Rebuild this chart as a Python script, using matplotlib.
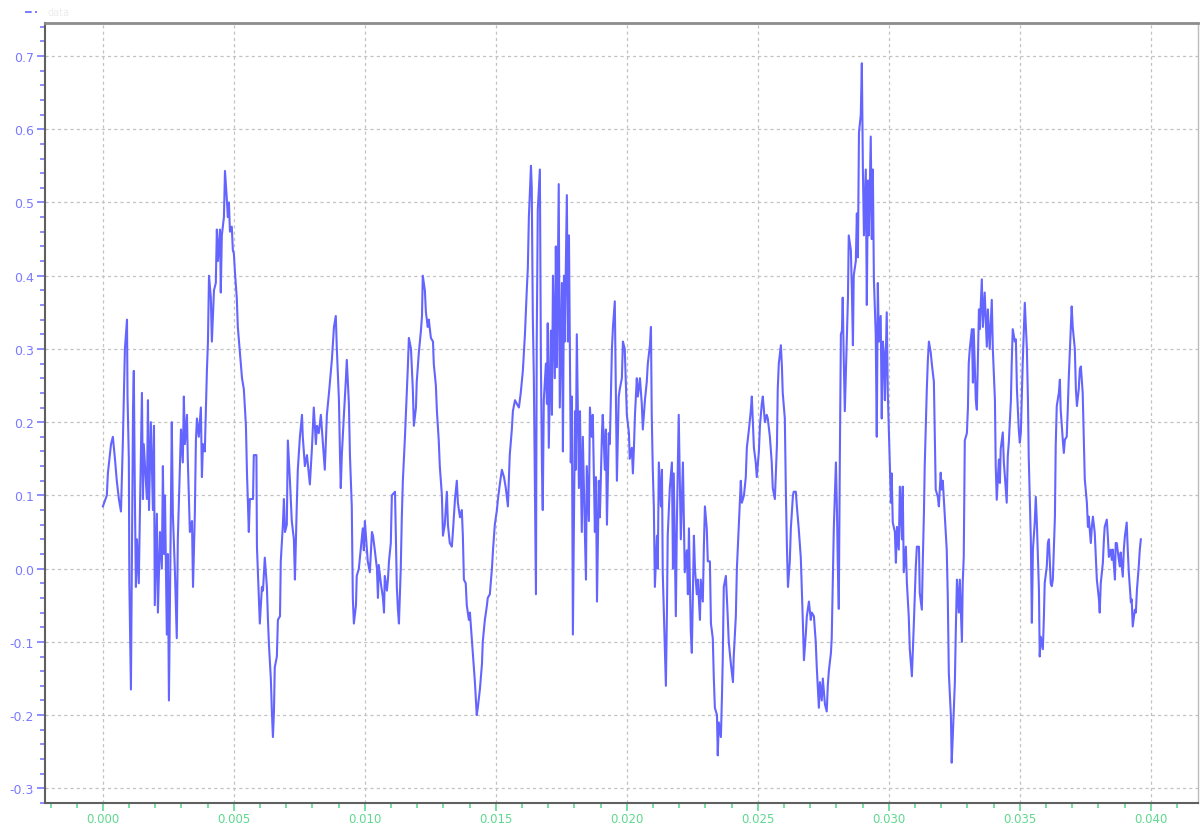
import numpy as np
import matplotlib
matplotlib.use('Agg')
import matplotlib.pyplot as plt
from matplotlib.ticker import MultipleLocator, FormatStrFormatter
from matplotlib.lines import Line2D

# 时间 (ms) 与幅值
t_ms = [
    0.00, 0.15, 0.19, 0.31, 0.38, 0.46, 0.53, 0.61, 0.69, 0.73, 0.76, 0.84, 0.92, 0.94, 0.99, 1.01,
    1.07, 1.11, 1.15, 1.18, 1.22, 1.26, 1.30, 1.37, 1.41, 1.49, 1.53, 1.56, 1.68, 1.72, 1.76, 1.83,
    1.91, 1.95, 1.98, 2.06, 2.10, 2.18, 2.25, 2.29, 2.33, 2.37, 2.44, 2.48, 2.52, 2.60, 2.63, 2.67,
    2.75, 2.82, 2.86, 2.90, 2.98, 3.05, 3.09, 3.13, 3.21, 3.24, 3.32, 3.40, 3.44, 3.51, 3.55, 3.59,
    3.66, 3.74, 3.78, 3.82, 3.89, 3.97, 4.01, 4.05, 4.12, 4.16, 4.24, 4.31, 4.35, 4.39, 4.47, 4.50,
    4.54, 4.62, 4.66, 4.73, 4.77, 4.81, 4.85, 4.92, 4.96, 5.00, 5.04, 5.11, 5.15, 5.23, 5.31, 5.38,
    5.46, 5.50, 5.57, 5.61, 5.73, 5.76, 5.86, 5.88, 5.99, 6.07, 6.11, 6.18, 6.26, 6.30, 6.34, 6.41,
    6.45, 6.49, 6.53, 6.56, 6.64, 6.68, 6.76, 6.79, 6.87, 6.91, 6.95, 7.02, 7.06, 7.14, 7.21, 7.29,
    7.33, 7.40, 7.44, 7.52, 7.60, 7.63, 7.71, 7.79, 7.90, 7.98, 8.05, 8.13, 8.17, 8.24, 8.32, 8.40,
    8.47, 8.55, 8.63, 8.74, 8.82, 8.89, 8.93, 9.01, 9.05, 9.08, 9.12, 9.20, 9.27, 9.31, 9.39, 9.43,
    9.50, 9.54, 9.58, 9.66, 9.69, 9.77, 9.85, 9.92, 9.96, 10.00, 10.08, 10.11, 10.19, 10.27, 10.31, 10.38,
    10.46, 10.50, 10.53, 10.61, 10.69, 10.73, 10.76, 10.84, 10.88, 10.92, 10.99, 11.03, 11.15, 11.18, 11.22, 11.26,
    11.30, 11.37, 11.41, 11.45, 11.53, 11.60, 11.64, 11.68, 11.76, 11.83, 11.87, 11.95, 11.98, 12.06, 12.14, 12.18,
    12.21, 12.29, 12.33, 12.40, 12.44, 12.52, 12.60, 12.63, 12.71, 12.75, 12.82, 12.86, 12.94, 12.98, 13.05, 13.13,
    13.17, 13.24, 13.32, 13.36, 13.44, 13.51, 13.55, 13.63, 13.70, 13.74, 13.78, 13.85, 13.89, 13.97, 14.01, 14.08,
    14.12, 14.20, 14.27, 14.31, 14.39, 14.47, 14.50, 14.58, 14.66, 14.69, 14.77, 14.85, 14.89, 14.96, 15.04, 15.08,
    15.15, 15.23, 15.31, 15.38, 15.46, 15.53, 15.61, 15.65, 15.73, 15.80, 15.88, 15.95, 16.03, 16.11, 16.18, 16.22,
    16.26, 16.34, 16.37, 16.41, 16.45, 16.49, 16.53, 16.56, 16.60, 16.68, 16.72, 16.76, 16.79, 16.83, 16.91, 16.95,
    16.98, 17.02, 17.10, 17.14, 17.18, 17.25, 17.29, 17.33, 17.40, 17.44, 17.52, 17.56, 17.60, 17.63, 17.71, 17.75,
    17.79, 17.86, 17.90, 17.94, 18.02, 18.05, 18.09, 18.17, 18.21, 18.28, 18.32, 18.40, 18.44, 18.47, 18.55, 18.59,
    18.66, 18.70, 18.78, 18.82, 18.86, 18.93, 18.97, 19.05, 19.08, 19.16, 19.20, 19.24, 19.31, 19.35, 19.43, 19.47,
    19.54, 19.58, 19.62, 19.69, 19.73, 19.81, 19.85, 19.92, 19.96, 20.00, 20.08, 20.11, 20.19, 20.23, 20.27, 20.31,
    20.38, 20.42, 20.50, 20.57, 20.61, 20.69, 20.76, 20.80, 20.88, 20.92, 20.95, 20.99, 21.03, 21.07, 21.15, 21.18,
    21.22, 21.30, 21.34, 21.37, 21.45, 21.49, 21.53, 21.56, 21.64, 21.72, 21.76, 21.79, 21.87, 21.91, 21.98, 22.06,
    22.14, 22.21, 22.29, 22.33, 22.37, 22.44, 22.48, 22.56, 22.60, 22.67, 22.71, 22.79, 22.82, 22.90, 22.94, 22.98,
    23.05, 23.09, 23.17, 23.21, 23.28, 23.32, 23.36, 23.44, 23.47, 23.51, 23.59, 23.63, 23.66, 23.70, 23.78, 23.85,
    23.89, 23.97, 24.05, 24.08, 24.16, 24.20, 24.27, 24.31, 24.35, 24.39, 24.47, 24.54, 24.58, 24.66, 24.73, 24.77,
    24.81, 24.85, 24.92, 24.96, 25.04, 25.08, 25.15, 25.19, 25.27, 25.34, 25.38, 25.46, 25.53, 25.57, 25.65, 25.73,
    25.76, 25.80, 25.88, 25.92, 25.95, 26.03, 26.07, 26.11, 26.15, 26.22, 26.26, 26.34, 26.37, 26.45, 26.49, 26.56,
    26.64, 26.68, 26.72, 26.76, 26.83, 26.87, 26.95, 27.02, 27.06, 27.14, 27.21, 27.25, 27.33, 27.37, 27.44, 27.48,
    27.56, 27.63, 27.67, 27.71, 27.79, 27.82, 27.86, 27.90, 27.98, 28.02, 28.05, 28.09, 28.13, 28.17, 28.21, 28.24,
    28.28, 28.32, 28.40, 28.44, 28.47, 28.55, 28.59, 28.63, 28.66, 28.74, 28.78, 28.82, 28.86, 28.93, 28.97, 29.01,
    29.05, 29.12, 29.16, 29.20, 29.24, 29.31, 29.35, 29.39, 29.43, 29.50, 29.54, 29.58, 29.62, 29.69, 29.73, 29.77,
    29.81, 29.85, 29.92, 29.96, 30.00, 30.08, 30.11, 30.15, 30.23, 30.27, 30.31, 30.38, 30.42, 30.50, 30.53, 30.57,
    30.65, 30.69, 30.76, 30.80, 30.88, 30.92, 30.95, 31.03, 31.07, 31.15, 31.18, 31.26, 31.30, 31.34, 31.37, 31.45,
    31.49, 31.53, 31.60, 31.64, 31.72, 31.76, 31.79, 31.87, 31.91, 31.98, 32.02, 32.06, 32.14, 32.21, 32.25, 32.29,
    32.37, 32.40, 32.44, 32.52, 32.56, 32.60, 32.67, 32.71, 32.79, 32.82, 32.86, 32.90, 32.98, 33.02, 33.05, 33.09,
    33.17, 33.21, 33.24, 33.32, 33.36, 33.44, 33.47, 33.55, 33.59, 33.66, 33.74, 33.78, 33.85, 33.93, 33.97, 34.05,
    34.08, 34.12, 34.20, 34.24, 34.27, 34.35, 34.39, 34.43, 34.50, 34.54, 34.58, 34.66, 34.69, 34.73, 34.81, 34.85,
    34.89, 34.96, 35.00, 35.04, 35.11, 35.15, 35.19, 35.27, 35.31, 35.34, 35.42, 35.46, 35.50, 35.57, 35.61, 35.65,
    35.73, 35.76, 35.80, 35.88, 35.92, 35.95, 36.03, 36.07, 36.11, 36.18, 36.22, 36.26, 36.34, 36.37, 36.41, 36.49,
    36.53, 36.56, 36.64, 36.68, 36.72, 36.79, 36.83, 36.87, 36.95, 36.98, 37.02, 37.10, 37.14, 37.18, 37.25, 37.29,
    37.33, 37.40, 37.44, 37.48, 37.56, 37.60, 37.63, 37.71, 37.75, 37.79, 37.86, 37.90, 37.94, 38.02, 38.05, 38.09,
    38.17, 38.21, 38.24, 38.32, 38.36, 38.40, 38.47, 38.51, 38.55, 38.63, 38.66, 38.70, 38.78, 38.82, 38.85, 38.93,
    38.97, 39.01, 39.08, 39.12, 39.16, 39.24, 39.27, 39.31, 39.39, 39.43, 39.47, 39.54, 39.58, 39.62,
]

amp = [
    0.085, 0.10, 0.13, 0.17, 0.18, 0.15, 0.12, 0.095, 0.078, 0.13, 0.17, 0.30, 0.34, 0.235, 0.15, -0.02,
    -0.165, 0.03, 0.22, 0.27, 0.10, -0.025, 0.04, -0.02, 0.07, 0.24, 0.095, 0.17, 0.095, 0.23, 0.08, 0.20,
    0.08, 0.195, -0.05, 0.075, -0.06, 0.05, 0.0, 0.14, 0.02, 0.10, -0.09, 0.02, -0.18, 0.09, 0.20, 0.075,
    -0.005, -0.095, 0.04, 0.09, 0.19, 0.145, 0.235, 0.17, 0.21, 0.15, 0.05, 0.065, -0.025, 0.075, 0.175, 0.205,
    0.18, 0.22, 0.125, 0.17, 0.16, 0.27, 0.31, 0.40, 0.37, 0.31, 0.38, 0.39, 0.463, 0.42, 0.463, 0.377,
    0.455, 0.48, 0.543, 0.505, 0.48, 0.50, 0.46, 0.467, 0.435, 0.43, 0.405, 0.37, 0.33, 0.295, 0.26, 0.245,
    0.195, 0.13, 0.05, 0.095, 0.095, 0.155, 0.155, 0.03, -0.075, -0.025, -0.03, 0.015, -0.025, -0.07, -0.105, -0.15,
    -0.195, -0.23, -0.195, -0.135, -0.12, -0.07, -0.065, 0.01, 0.06, 0.095, 0.05, 0.06, 0.175, 0.12, 0.065, 0.04,
    -0.015, 0.085, 0.135, 0.18, 0.21, 0.18, 0.14, 0.155, 0.115, 0.165, 0.22, 0.17, 0.195, 0.185, 0.21, 0.17,
    0.135, 0.21, 0.24, 0.285, 0.33, 0.345, 0.30, 0.23, 0.155, 0.11, 0.155, 0.21, 0.255, 0.285, 0.225, 0.155,
    0.085, -0.04, -0.075, -0.05, -0.01, 0.0, 0.03, 0.055, 0.025, 0.065, 0.025, 0.01, -0.005, 0.05, 0.045, 0.025,
    0.0, -0.04, 0.005, -0.02, -0.04, -0.06, -0.01, -0.03, -0.015, 0.01, 0.035, 0.10, 0.105, 0.05, -0.025, -0.055,
    -0.075, 0.0, 0.07, 0.12, 0.18, 0.24, 0.275, 0.315, 0.30, 0.245, 0.195, 0.22, 0.255, 0.295, 0.325, 0.345,
    0.40, 0.38, 0.35, 0.33, 0.34, 0.315, 0.31, 0.28, 0.25, 0.215, 0.175, 0.14, 0.10, 0.045, 0.06, 0.105,
    0.06, 0.035, 0.03, 0.05, 0.095, 0.12, 0.09, 0.07, 0.08, 0.045, -0.015, -0.02, -0.05, -0.07, -0.06, -0.095,
    -0.115, -0.155, -0.20, -0.19, -0.165, -0.13, -0.10, -0.07, -0.05, -0.04, -0.035, 0.0, 0.025, 0.06, 0.08, 0.095,
    0.115, 0.135, 0.125, 0.11, 0.085, 0.155, 0.19, 0.215, 0.23, 0.225, 0.22, 0.24, 0.27, 0.32, 0.38, 0.41,
    0.48, 0.55, 0.52, 0.345, 0.26, 0.115, -0.035, 0.31, 0.49, 0.545, 0.28, 0.135, 0.08, 0.23, 0.28, 0.225,
    0.335, 0.165, 0.325, 0.21, 0.40, 0.26, 0.44, 0.275, 0.525, 0.22, 0.39, 0.16, 0.40, 0.31, 0.51, 0.31,
    0.455, 0.145, 0.235, -0.09, 0.215, 0.135, 0.32, 0.11, 0.215, 0.05, 0.18, 0.045, -0.015, 0.14, 0.065, 0.22,
    0.18, 0.21, 0.05, 0.125, -0.045, 0.12, 0.07, 0.185, 0.21, 0.135, 0.19, 0.06, 0.185, 0.17, 0.30, 0.33,
    0.365, 0.245, 0.12, 0.235, 0.245, 0.26, 0.31, 0.30, 0.255, 0.21, 0.185, 0.15, 0.165, 0.13, 0.165, 0.21,
    0.26, 0.235, 0.26, 0.225, 0.19, 0.23, 0.255, 0.28, 0.305, 0.33, 0.21, 0.135, 0.085, -0.025, 0.045, 0.0,
    0.145, 0.085, 0.135, -0.005, -0.11, -0.16, -0.06, 0.045, 0.11, 0.145, 0.0, 0.13, -0.065, 0.065, 0.21, 0.04,
    0.145, -0.005, 0.025, -0.035, 0.055, -0.085, -0.115, 0.045, 0.0, -0.035, -0.015, -0.07, -0.015, -0.045, 0.03, 0.085,
    0.055, 0.01, 0.01, -0.075, -0.095, -0.15, -0.19, -0.20, -0.255, -0.21, -0.23, -0.175, -0.125, -0.025, -0.01, -0.065,
    -0.10, -0.13, -0.155, -0.12, -0.065, 0.0, 0.055, 0.085, 0.12, 0.09, 0.10, 0.125, 0.165, 0.19, 0.215, 0.235,
    0.20, 0.165, 0.145, 0.125, 0.16, 0.195, 0.225, 0.235, 0.20, 0.21, 0.205, 0.18, 0.145, 0.11, 0.095, 0.17,
    0.245, 0.28, 0.305, 0.275, 0.24, 0.205, 0.105, 0.03, -0.025, 0.01, 0.055, 0.10, 0.105, 0.105, 0.085, 0.055,
    0.015, -0.03, -0.075, -0.125, -0.09, -0.065, -0.045, -0.07, -0.06, -0.065, -0.10, -0.135, -0.19, -0.155, -0.18, -0.15,
    -0.185, -0.195, -0.16, -0.14, -0.115, -0.095, -0.02, 0.055, 0.145, 0.08, 0.01, -0.055, 0.15, 0.32, 0.325, 0.37,
    0.285, 0.215, 0.32, 0.37, 0.455, 0.435, 0.38, 0.305, 0.40, 0.42, 0.485, 0.425, 0.595, 0.62, 0.69, 0.545,
    0.455, 0.545, 0.36, 0.53, 0.455, 0.59, 0.45, 0.545, 0.395, 0.32, 0.18, 0.39, 0.31, 0.345, 0.205, 0.31,
    0.295, 0.23, 0.35, 0.24, 0.19, 0.09, 0.13, 0.063, 0.05, 0.008, 0.057, 0.026, 0.112, 0.04, 0.112, -0.005,
    0.03, -0.02, -0.065, -0.11, -0.147, -0.11, -0.08, 0.003, 0.03, 0.03, -0.033, -0.056, 0.016, 0.076, 0.14, 0.245,
    0.285, 0.31, 0.295, 0.28, 0.255, 0.175, 0.108, 0.098, 0.085, 0.131, 0.108, 0.12, 0.071, 0.026, -0.038, -0.142,
    -0.202, -0.265, -0.23, -0.156, -0.079, -0.015, -0.06, -0.015, -0.10, -0.02, 0.016, 0.175, 0.185, 0.22, 0.28, 0.30,
    0.327, 0.254, 0.327, 0.23, 0.217, 0.354, 0.327, 0.395, 0.33, 0.377, 0.303, 0.354, 0.30, 0.367, 0.30, 0.23,
    0.14, 0.094, 0.149, 0.117, 0.163, 0.186, 0.145, 0.126, 0.09, 0.153, 0.172, 0.23, 0.28, 0.327, 0.31, 0.313,
    0.245, 0.19, 0.172, 0.186, 0.28, 0.322, 0.363, 0.30, 0.23, 0.153, 0.04, -0.074, 0.026, 0.063, 0.098, 0.063,
    -0.029, -0.12, -0.093, -0.11, -0.065, -0.02, 0.003, 0.035, 0.04, -0.02, -0.024, -0.015, 0.071, 0.167, 0.222, 0.24,
    0.258, 0.217, 0.176, 0.158, 0.176, 0.18, 0.217, 0.262, 0.33, 0.358, 0.33, 0.30, 0.245, 0.222, 0.245, 0.272,
    0.276, 0.24, 0.18, 0.122, 0.09, 0.057, 0.071, 0.035, 0.057, 0.071, 0.049, 0.016, -0.015, -0.042, -0.06, -0.02,
    0.008, 0.04, 0.057, 0.067, 0.044, 0.016, 0.026, 0.012, 0.026, -0.015, 0.035, 0.035, 0.012, 0.003, 0.022, -0.011,
    0.026, 0.044, 0.063, 0.026, -0.005, -0.046, -0.042, -0.079, -0.056, -0.06, -0.029, 0.003, 0.026, 0.04,
]

x_ticks = [0.000, 0.005, 0.010, 0.015, 0.020, 0.025, 0.030, 0.035, 0.040]
y_ticks = [-0.3, -0.2, -0.1, 0.0, 0.1, 0.2, 0.3, 0.4, 0.5, 0.6, 0.7]

t = np.array(t_ms) / 1000.0
y = np.array(amp)

line_col = '#6464ff'
y_col = '#7a7aff'
x_col = '#5fd88f'

fig = plt.figure(figsize=(12, 8.28), dpi=100)
ax = fig.add_axes([0.0375, 0.029, 0.9608, 0.942])

ax.plot(t, y, color=line_col, lw=1.5)

ax.set_xlim(-0.00221, 0.0418)
ax.set_ylim(-0.32, 0.745)
ax.set_xticks(x_ticks)
ax.set_yticks(y_ticks)
ax.xaxis.set_minor_locator(MultipleLocator(0.001))
ax.yaxis.set_minor_locator(MultipleLocator(0.02))
ax.xaxis.set_major_formatter(FormatStrFormatter('%.3f'))
ax.yaxis.set_major_formatter(FormatStrFormatter('%.1f'))

ax.tick_params(axis='y', which='major', direction='out', length=6, width=1.2,
               color=y_col, labelcolor=y_col, labelsize=9, pad=2)
ax.tick_params(axis='y', which='minor', direction='out', length=3.5, width=1.2, color=y_col)
ax.tick_params(axis='x', which='major', direction='out', length=6, width=1.2,
               color=x_col, labelcolor=x_col, labelsize=8.5, pad=0.5)
ax.tick_params(axis='x', which='minor', direction='out', length=3.5, width=1.2, color=x_col)

ax.grid(True, which='major', color='#c2c2c2', lw=0.9, ls=(0, (2.5, 2.5)))

ax.spines['left'].set_color('#606060')
ax.spines['bottom'].set_color('#606060')
ax.spines['left'].set_linewidth(1.5)
ax.spines['bottom'].set_linewidth(1.5)
ax.spines['top'].set_color('#8c8c8c')
ax.spines['top'].set_linewidth(2)
ax.spines['right'].set_color('#bcbcbc')
ax.spines['right'].set_linewidth(1)

# 左上角图例
fig.add_artist(Line2D([25 / 1200, 37 / 1200], [1 - 12.7 / 828] * 2, color=line_col,
                      lw=1.2, ls=(0, (4, 2))))
fig.text(47 / 1200, 1 - 12.7 / 828, 'data', color='#ececec', fontsize=7, va='center')

fig.savefig('out.png', dpi=100)
